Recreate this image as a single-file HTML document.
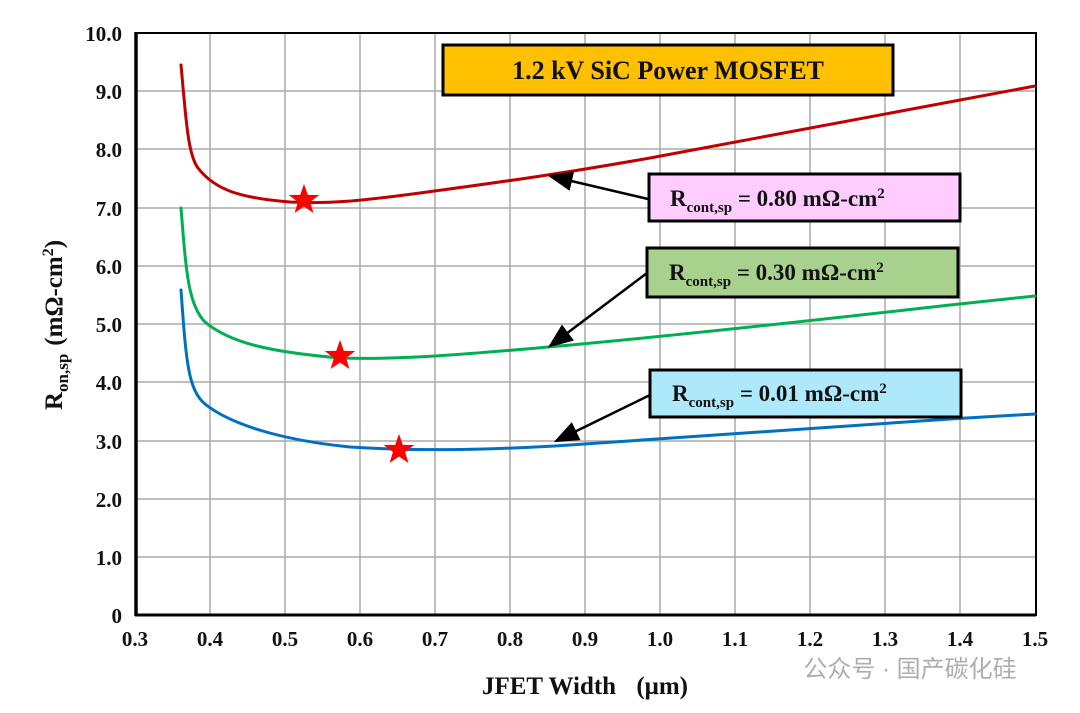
<!DOCTYPE html>
<html><head><meta charset="utf-8"><style>
body{margin:0;background:#fff;}
svg{display:block;font-family:"Liberation Serif",serif;font-weight:bold;}
</style></head><body>
<svg width="1080" height="713" viewBox="0 0 1080 713" xmlns="http://www.w3.org/2000/svg">
<defs><marker id="ah" markerWidth="10" markerHeight="8" refX="9" refY="4" orient="auto"><path d="M0,0 L10,4 L0,8 Z" fill="#000"/></marker></defs>
<g stroke="#aaa" stroke-width="1.5">
<line x1="210" y1="33" x2="210" y2="615"/><line x1="285" y1="33" x2="285" y2="615"/><line x1="360" y1="33" x2="360" y2="615"/><line x1="435" y1="33" x2="435" y2="615"/><line x1="510" y1="33" x2="510" y2="615"/><line x1="585" y1="33" x2="585" y2="615"/><line x1="660" y1="33" x2="660" y2="615"/><line x1="735" y1="33" x2="735" y2="615"/><line x1="810" y1="33" x2="810" y2="615"/><line x1="885" y1="33" x2="885" y2="615"/><line x1="960" y1="33" x2="960" y2="615"/>
<line x1="135" y1="91" x2="1036" y2="91"/><line x1="135" y1="149" x2="1036" y2="149"/><line x1="135" y1="208" x2="1036" y2="208"/><line x1="135" y1="266" x2="1036" y2="266"/><line x1="135" y1="324" x2="1036" y2="324"/><line x1="135" y1="382" x2="1036" y2="382"/><line x1="135" y1="441" x2="1036" y2="441"/><line x1="135" y1="499" x2="1036" y2="499"/><line x1="135" y1="557" x2="1036" y2="557"/>
</g>
<rect x="136" y="33" width="900" height="582" fill="none" stroke="#000" stroke-width="2"/>
<line x1="136" y1="32" x2="136" y2="616" stroke="#000" stroke-width="3.5"/>
<line x1="135" y1="615" x2="1036" y2="615" stroke="#000" stroke-width="3"/>
<g fill="none" stroke-width="3" stroke-linejoin="round" stroke-linecap="round">
<path stroke="#c00000" d="M181,65 C186,120 188,155 198,168 C215,190 240,198 290,202 C330,204 360,201 420,193 C500,182 548,176 650,158 C800,130 950,103 1035,86"/>
<path stroke="#00b050" d="M181,208 C186,270 188,305 205,322 C230,343 270,352 340,358 C400,360 470,354 548,347 C650,338 800,322 950,305 L1035,296"/>
<path stroke="#0070c0" d="M181,290 C186,360 188,390 205,404 C230,424 280,440 350,447 C430,452 500,449 555,446 C650,440 800,430 950,419 L1035,414"/>
</g>
<g fill="#ff0000">
<polygon transform="translate(304,200) scale(1.15)" points="0,-14 3.3,-4.5 13.3,-4.3 5.3,1.7 8.2,11.3 0,5.6 -8.2,11.3 -5.3,1.7 -13.3,-4.3 -3.3,-4.5"/>
<polygon transform="translate(340,356) scale(1.15)" points="0,-14 3.3,-4.5 13.3,-4.3 5.3,1.7 8.2,11.3 0,5.6 -8.2,11.3 -5.3,1.7 -13.3,-4.3 -3.3,-4.5"/>
<polygon transform="translate(399,450) scale(1.15)" points="0,-14 3.3,-4.5 13.3,-4.3 5.3,1.7 8.2,11.3 0,5.6 -8.2,11.3 -5.3,1.7 -13.3,-4.3 -3.3,-4.5"/>
</g>
<g stroke="#000" stroke-width="2.5" marker-end="url(#ah)">
<line x1="648" y1="199" x2="550" y2="176"/>
<line x1="647" y1="273" x2="550" y2="346"/>
<line x1="650" y1="395" x2="556" y2="441"/>
</g>
<rect x="443" y="45" width="450" height="50" fill="#ffc000" stroke="#000" stroke-width="3"/>
<text x="668" y="79" text-anchor="middle" font-size="26" fill="#111">1.2 kV SiC Power MOSFET</text>
<rect x="649" y="174" width="311" height="47" fill="#ffccff" stroke="#000" stroke-width="3"/>
<rect x="647" y="248" width="311" height="49" fill="#a9d18e" stroke="#000" stroke-width="3"/>
<rect x="650" y="370" width="311" height="47" fill="#ade8fb" stroke="#000" stroke-width="3"/>
<g font-size="23" fill="#111">
<text x="670" y="206">R<tspan font-size="15" dy="6">cont,sp</tspan><tspan dy="-6"> = 0.80 mΩ-cm</tspan><tspan font-size="15" dy="-8">2</tspan></text>
<text x="669" y="280">R<tspan font-size="15" dy="6">cont,sp</tspan><tspan dy="-6"> = 0.30 mΩ-cm</tspan><tspan font-size="15" dy="-8">2</tspan></text>
<text x="672" y="401">R<tspan font-size="15" dy="6">cont,sp</tspan><tspan dy="-6"> = 0.01 mΩ-cm</tspan><tspan font-size="15" dy="-8">2</tspan></text>
</g>
<g font-size="21" text-anchor="end" fill="#111">
<text x="122" y="41">10.0</text><text x="122" y="99">9.0</text><text x="122" y="157">8.0</text><text x="122" y="216">7.0</text><text x="122" y="274">6.0</text><text x="122" y="332">5.0</text><text x="122" y="390">4.0</text><text x="122" y="449">3.0</text><text x="122" y="507">2.0</text><text x="122" y="565">1.0</text><text x="122" y="623">0</text>
</g>
<g font-size="21" text-anchor="middle" fill="#111">
<text x="135" y="646">0.3</text><text x="210" y="646">0.4</text><text x="285" y="646">0.5</text><text x="360" y="646">0.6</text><text x="435" y="646">0.7</text><text x="510" y="646">0.8</text><text x="585" y="646">0.9</text><text x="660" y="646">1.0</text><text x="735" y="646">1.1</text><text x="810" y="646">1.2</text><text x="885" y="646">1.3</text><text x="960" y="646">1.4</text><text x="1035" y="646">1.5</text>
</g>
<text x="585" y="694" text-anchor="middle" font-size="25" fill="#111">JFET Width <tspan dx="14">(μm)</tspan></text>
<text transform="translate(62,325) rotate(-90)" text-anchor="middle" font-size="25" fill="#111">R<tspan font-size="17" dy="6">on,sp</tspan><tspan dy="-6" dx="8">(mΩ-cm</tspan><tspan font-size="16" dy="-9">2</tspan><tspan dy="9">)</tspan></text>
<text x="910" y="677" text-anchor="middle" font-size="24" fill="#999" font-weight="normal" font-family="Liberation Sans,'Noto Sans CJK SC',sans-serif" opacity="0.8">公众号 · 国产碳化硅</text>
</svg>
</body></html>
